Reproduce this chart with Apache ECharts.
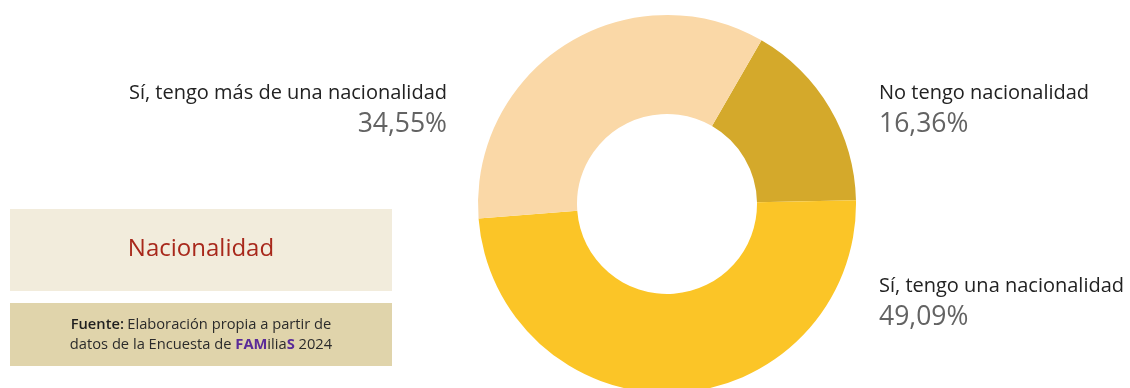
<!DOCTYPE html>
<html>
<head>
<meta charset="utf-8">
<script src="https://cdn.jsdelivr.net/npm/echarts@6/dist/echarts.min.js"></script>
<style>
  html, body { margin: 0; padding: 0; background: #ffffff; }
  #chart { width: 1130px; height: 388px; }
</style>
</head>
<body>
<div id="chart"></div>
<script>
// Respuestas sobre nacionalidad (porcentaje de personas)
const categories = ['No tengo nacionalidad', 'Sí, tengo una nacionalidad', 'Sí, tengo más de una nacionalidad'];
const values = [16.36, 49.09, 34.55];
const colors = ['#d4a92b', '#fbc527', '#fad8a7'];
const title = 'Nacionalidad';

// Posición de cada etiqueta (ancla x, y y alineación)
const labelAnchors = [
  { x: 879, y: 78, align: 'left' },
  { x: 879, y: 271, align: 'left' },
  { x: 447, y: 78, align: 'right' }
];

const FONT = '"Open Sans", "Noto Sans", sans-serif';
const chart = echarts.init(document.getElementById('chart'), null, { renderer: 'canvas' });

chart.setOption({
  backgroundColor: '#ffffff',
  animation: false,
  graphic: [
    { type: 'rect', shape: { x: 10, y: 209, width: 382, height: 82 }, style: { fill: '#f2ecdc' } },
    {
      type: 'text', x: 201, y: 249,
      style: { text: title, fill: '#a8281b', font: '24px ' + FONT, align: 'center', verticalAlign: 'middle' }
    },
    { type: 'rect', shape: { x: 10, y: 303, width: 382, height: 63 }, style: { fill: '#e0d4ab' } },
    {
      type: 'text', x: 201, y: 335,
      style: {
        text: '{b|Fuente:} {t|Elaboración propia a partir de}\n{t|datos de la Encuesta de }{p|FAM}{t|ilia}{p|S}{t| 2024}',
        align: 'center', verticalAlign: 'middle',
        rich: {
          t: { fontFamily: FONT, fontSize: 14.7, fill: '#2b2b2b', lineHeight: 20 },
          b: { fontFamily: FONT, fontSize: 14.7, fill: '#1f1f1f', fontWeight: 600, lineHeight: 20 },
          p: { fontFamily: FONT, fontSize: 14.7, fill: '#5a2b98', fontWeight: 700, lineHeight: 20 }
        }
      }
    }
  ],
  series: [{
    type: 'pie',
    center: [667, 204],
    radius: [90, 189],
    startAngle: 60,
    clockwise: true,
    silent: true,
    itemStyle: { borderWidth: 0 },
    labelLine: { show: false },
    label: {
      show: true,
      position: 'outside',
      formatter: p => '{n|' + p.name + '}\n{v|' + p.value.toFixed(2).replace('.', ',') + '%}',
      rich: {
        n: { fontFamily: FONT, fontSize: 20, color: '#222222', lineHeight: 30 },
        v: { fontFamily: FONT, fontSize: 26.5, fontWeight: 500, color: '#636363', lineHeight: 32 }
      }
    },
    labelLayout: p => {
      const a = labelAnchors[p.dataIndex];
      return { x: a.x, y: a.y, align: a.align, verticalAlign: 'top', hideOverlap: false };
    },
    data: categories.map((c, i) => ({ name: c, value: values[i], itemStyle: { color: colors[i] } }))
  }]
});
</script>
</body>
</html>
